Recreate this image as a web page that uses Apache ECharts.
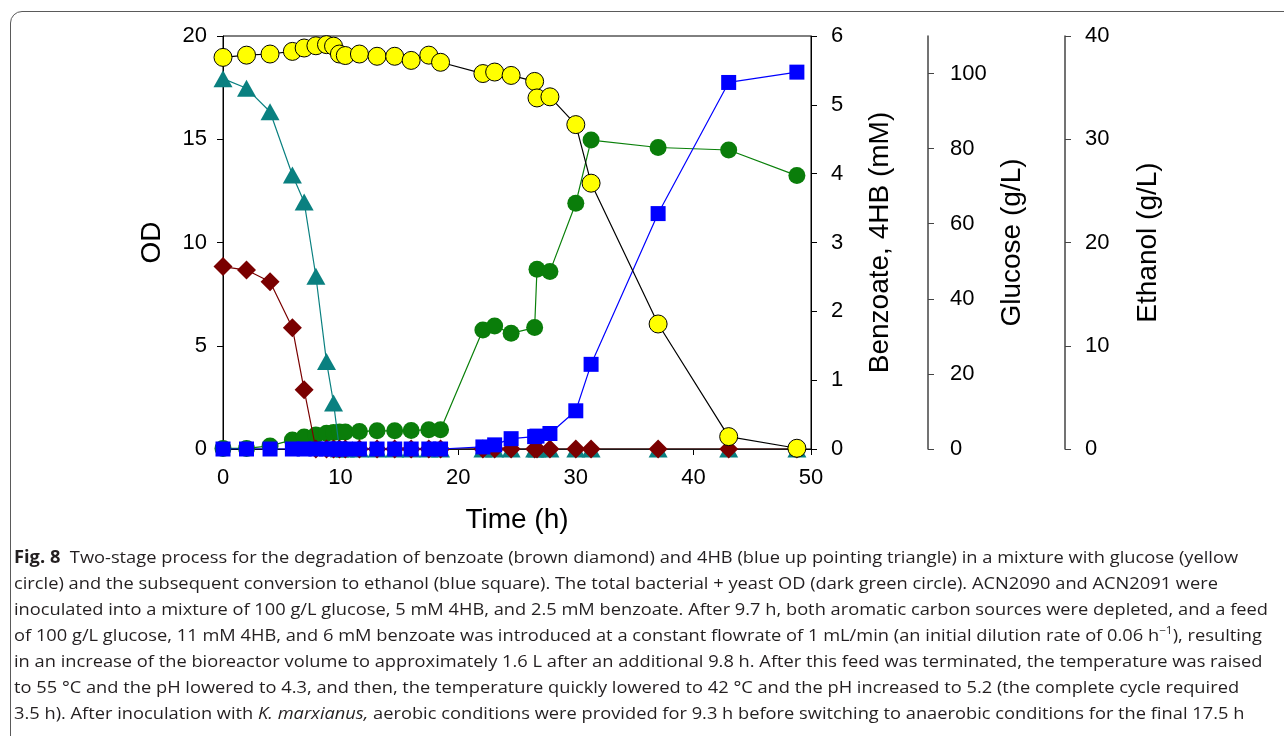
<!DOCTYPE html>
<html>
<head>
<meta charset="utf-8">
<title>Fig. 8</title>
<script src="https://cdn.jsdelivr.net/npm/echarts@6.0.0/dist/echarts.min.js"></script>
<style>
  html, body { margin: 0; padding: 0; background: #fff; overflow: hidden; }
  #page { position: relative; width: 1284px; height: 736px; overflow: hidden; }
  #frame {
    position: absolute; left: 10px; top: 11px; width: 1320px; height: 800px;
    border: 1.5px solid #5a5a5a; border-radius: 12px; box-sizing: border-box;
  }
  #chart { position: absolute; left: 0; top: 0; width: 1284px; height: 736px; }
  #caption {
    position: absolute; left: 14px; top: 544px;
    font-family: "Open Sans", "Noto Sans", sans-serif; font-size: 17px;
    color: #231f20; line-height: 26px;
  }
  #caption div { white-space: nowrap; transform-origin: 0 50%; width: max-content; }
  #caption sup { font-size: 11px; line-height: 0; }
</style>
</head>
<body>
<div id="page">
  <div id="frame"></div>
  <div id="chart"></div>
  <div id="caption">
    <div data-w="1250"><b>Fig. 8</b>&nbsp; Two-stage process for the degradation of benzoate (brown diamond) and 4HB (blue up pointing triangle) in a mixture with glucose (yellow</div>
    <div>circle) and the subsequent conversion to ethanol (blue square). The total bacterial + yeast OD (dark green circle). ACN2090 and ACN2091 were</div>
    <div data-w="1254">inoculated into a mixture of 100 g/L glucose, 5 mM 4HB, and 2.5 mM benzoate. After 9.7 h, both aromatic carbon sources were depleted, and a feed</div>
    <div data-w="1260">of 100 g/L glucose, 11 mM 4HB, and 6 mM benzoate was introduced at a constant flowrate of 1 mL/min (an initial dilution rate of 0.06 h<sup>−1</sup>), resulting</div>
    <div data-w="1256">in an increase of the bioreactor volume to approximately 1.6 L after an additional 9.8 h. After this feed was terminated, the temperature was raised</div>
    <div data-w="1252">to 55 °C and the pH lowered to 4.3, and then, the temperature quickly lowered to 42 °C and the pH increased to 5.2 (the complete cycle required</div>
    <div data-w="1246">3.5 h). After inoculation with <i>K. marxianus,</i> aerobic conditions were provided for 9.3 h before switching to anaerobic conditions for the final 17.5 h</div>
  </div>
</div>
<script>
// sampling times (h)
var timeH = [0, 2, 4, 5.9, 6.9, 7.9, 8.8, 9.4, 9.9, 10.4, 11.6, 13.1, 14.6, 16, 17.5, 18.5,
             22.1, 23.1, 24.5, 26.5, 26.7, 27.8, 30, 31.3, 37, 43, 48.8];

// glucose (g/L)
var glucose = [104.3, 104.9, 105.2, 105.9, 106.8, 107.4, 107.7, 107.3, 105.2, 104.8, 105.2, 104.6, 104.6, 103.5, 104.9, 103,
               100, 100.4, 99.5, 97.9, 93.5, 93.8, 86.4, 70.8, 33.3, 3.3, 0.2];
// total OD
var od = [0.03, 0.03, 0.15, 0.44, 0.58, 0.68, 0.76, 0.8, 0.82, 0.82, 0.85, 0.88, 0.88, 0.9, 0.93, 0.93,
          5.76, 5.96, 5.6, 5.88, 8.7, 8.6, 11.9, 14.96, 14.6, 14.48, 13.24];
// 4HB (mM)
var hb4 = [5.38, 5.24, 4.9, 3.98, 3.59, 2.51, 1.27, 0.67, 0, 0, 0, 0, 0, 0, 0, 0,
           0, 0, 0, 0, 0, 0, 0, 0, 0, 0, 0];
// benzoate (mM)
var benzoate = [2.65, 2.6, 2.43, 1.76, 0.86, 0, 0, 0, 0, 0, 0, 0, 0, 0, 0, 0,
                0, 0, 0, 0, 0, 0, 0, 0, 0, 0, 0];
// ethanol (g/L)
var ethanol = [0, 0, 0, 0, 0, 0, 0, 0, 0, 0, 0, 0, 0, 0, 0, 0,
               0.2, 0.4, 1.0, 1.2, 1.25, 1.5, 3.7, 8.2, 22.8, 35.5, 36.5];

var glucoseTicks = [0, 20, 40, 60, 80, 100];

var FONT = '"Liberation Sans", Arial, sans-serif';

function pairs(vals) {
    return timeH.map(function (t, i) { return [t, vals[i]]; });
}

var labelStyle = { fontSize: 22, color: '#000', fontFamily: FONT };
var nameStyle = { fontSize: 28, color: '#000', fontFamily: FONT };

var option = {
    backgroundColor: 'transparent',
    animation: false,
    grid: {
        left: 223, right: 473, top: 36, bottom: 287,
        show: true, borderColor: '#000', borderWidth: 1, backgroundColor: 'transparent'
    },
    xAxis: {
        type: 'value', min: 0, max: 50, interval: 10,
        name: 'Time (h)', nameLocation: 'middle', nameGap: 57, nameTextStyle: nameStyle,
        axisLine: { lineStyle: { color: '#000', width: 1 } },
        axisTick: { length: 6, lineStyle: { color: '#000' } },
        axisLabel: Object.assign({ margin: 18 }, labelStyle),
        splitLine: { show: false }
    },
    yAxis: [
        {
            type: 'value', position: 'left', min: 0, max: 20, interval: 5,
            name: 'OD', nameLocation: 'middle', nameGap: 57, nameTextStyle: nameStyle,
            axisLine: { show: true, lineStyle: { color: '#000', width: 1 } },
            axisTick: { show: true, length: 6, lineStyle: { color: '#000' } },
            axisLabel: Object.assign({ margin: 16 }, labelStyle),
            splitLine: { show: false }
        },
        {
            type: 'value', position: 'right', offset: 0, min: 0, max: 6, interval: 1,
            name: 'Benzoate, 4HB (mM)', nameLocation: 'middle', nameGap: 55, nameTextStyle: nameStyle,
            axisLine: { show: true, lineStyle: { color: '#000', width: 1 } },
            axisTick: { show: true, length: 6, lineStyle: { color: '#000' } },
            axisLabel: Object.assign({ margin: 20 }, labelStyle),
            splitLine: { show: false }
        },
        {
            type: 'value', position: 'right', offset: 117, min: 0, max: 110,
            name: 'Glucose (g/L)', nameLocation: 'middle', nameGap: 70, nameTextStyle: nameStyle,
            axisLine: { show: true, lineStyle: { color: '#444', width: 1.5 } },
            axisTick: { show: true, length: 6, customValues: glucoseTicks, lineStyle: { color: '#444' } },
            axisLabel: Object.assign({ margin: 22, customValues: glucoseTicks }, labelStyle),
            splitLine: { show: false }
        },
        {
            type: 'value', position: 'right', offset: 254, min: 0, max: 40, interval: 10,
            name: 'Ethanol (g/L)', nameLocation: 'middle', nameGap: 69, nameTextStyle: nameStyle,
            axisLine: { show: true, lineStyle: { color: '#444', width: 1.5 } },
            axisTick: { show: true, length: 6, lineStyle: { color: '#444' } },
            axisLabel: Object.assign({ margin: 20 }, labelStyle),
            splitLine: { show: false }
        }
    ],
    series: [
        {
            name: 'OD', type: 'line', yAxisIndex: 0, z: 2,
            data: pairs(od),
            symbol: 'circle', symbolSize: 17,
            lineStyle: { color: '#0a800a', width: 1.2 },
            itemStyle: { color: '#0a7d0a' }
        },
        {
            name: '4HB', type: 'line', yAxisIndex: 1, z: 3,
            data: pairs(hb4),
            symbol: 'triangle', symbolSize: [19, 17],
            lineStyle: { color: '#0a8080', width: 1.2 },
            itemStyle: { color: '#0a8080' }
        },
        {
            name: 'Benzoate', type: 'line', yAxisIndex: 1, z: 4,
            data: pairs(benzoate),
            symbol: 'diamond', symbolSize: 19,
            lineStyle: { color: '#7a0000', width: 1.2 },
            itemStyle: { color: '#7a0000' }
        },
        {
            name: 'Ethanol', type: 'line', yAxisIndex: 3, z: 5,
            data: pairs(ethanol),
            symbol: 'rect', symbolSize: 15,
            lineStyle: { color: '#0000ff', width: 1.2 },
            itemStyle: { color: '#0000ff' }
        },
        {
            name: 'Glucose', type: 'line', yAxisIndex: 2, z: 6,
            data: pairs(glucose),
            symbol: 'circle', symbolSize: 18,
            lineStyle: { color: '#000', width: 1.2 },
            itemStyle: { color: '#ffff00', borderColor: '#000', borderWidth: 1 }
        }
    ]
};

var myChart = echarts.init(document.getElementById('chart'), null, { renderer: 'canvas' });
myChart.setOption(option);

// one common horizontal squeeze for the caption, taken from the full-width lines
var lines = document.querySelectorAll('#caption div');
var ratios = [];
for (var i = 0; i < lines.length; i++) {
    var target = lines[i].getAttribute('data-w');
    if (target) {
        ratios.push((+target) / lines[i].getBoundingClientRect().width);
    }
}
var k = Math.min.apply(null, ratios);
for (var j = 0; j < lines.length; j++) {
    lines[j].style.transform = 'scaleX(' + k + ')';
}
</script>
</body>
</html>
